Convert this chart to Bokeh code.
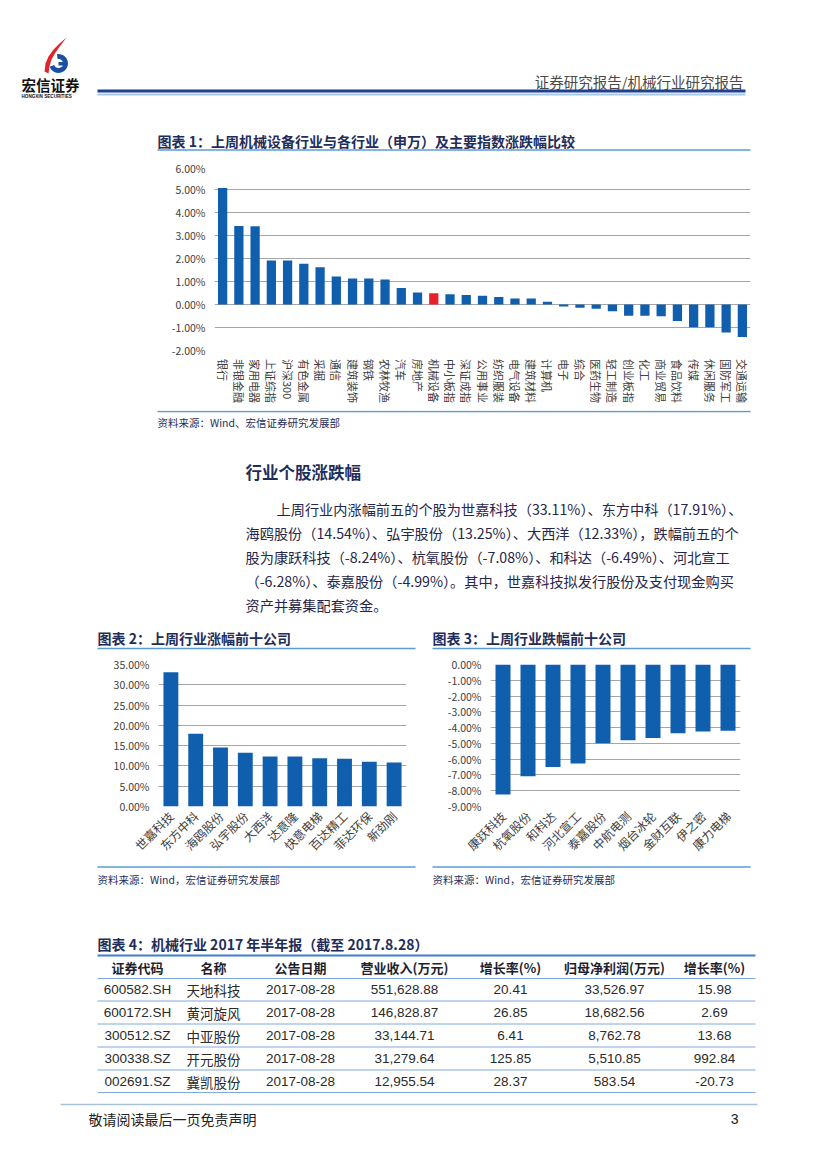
import math
from bokeh.plotting import figure
from bokeh.models import Range1d, FactorRange, FixedTicker, PrintfTickFormatter, Spacer
from bokeh.layouts import column, row
from bokeh.core.properties import value
from bokeh.embed import file_html
from bokeh.resources import INLINE

# ---------------- data ----------------
industries = ["银行", "非银金融", "家用电器", "上证综指", "沪深300", "有色金属", "采掘", "通信",
              "建筑装饰", "钢铁", "农林牧渔", "汽车", "房地产", "机械设备", "中小板指", "深证成指",
              "公用事业", "纺织服装", "电气设备", "建筑材料", "计算机", "电子", "综合", "医药生物",
              "轻工制造", "创业板指", "化工", "商业贸易", "食品饮料", "传媒", "休闲服务", "国防军工",
              "交通运输"]
industry_change = [5.07, 3.41, 3.40, 1.91, 1.91, 1.77, 1.62, 1.22, 1.13, 1.13, 1.09, 0.72, 0.52,
                   0.49, 0.45, 0.41, 0.38, 0.33, 0.26, 0.26, 0.12, -0.09, -0.14, -0.19, -0.29,
                   -0.49, -0.49, -0.51, -0.72, -0.99, -0.99, -1.22, -1.41]
highlight = "机械设备"
chart1_ticks = [-2, -1, 0, 1, 2, 3, 4, 5, 6]

gainers = ["世嘉科技", "东方中科", "海鸥股份", "弘宇股份", "大西洋", "达意隆", "快意电梯",
           "百达精工", "菲达环保", "新劲刚"]
gainer_change = [33.11, 17.91, 14.54, 13.25, 12.33, 12.30, 11.90, 11.75, 11.02, 10.86]
chart2_ticks = [0, 5, 10, 15, 20, 25, 30, 35]

losers = ["康跃科技", "杭氧股份", "和科达", "河北宣工", "泰嘉股份", "中航电测", "烟台冰轮",
          "金财互联", "伊之密", "康力电梯"]
loser_change = [-8.24, -7.08, -6.49, -6.28, -4.99, -4.80, -4.66, -4.36, -4.24, -4.20]
chart3_ticks = [-9, -8, -7, -6, -5, -4, -3, -2, -1, 0]

table_header = ["证券代码", "名称", "公告日期", "营业收入(万元)", "增长率(%)", "归母净利润(万元)", "增长率(%)"]
codes = ["600582.SH", "600172.SH", "300512.SZ", "300338.SZ", "002691.SZ"]
names = ["天地科技", "黄河旋风", "中亚股份", "开元股份", "冀凯股份"]
dates = ["2017-08-28", "2017-08-28", "2017-08-28", "2017-08-28", "2017-08-28"]
revenue = ["551,628.88", "146,828.87", "33,144.71", "31,279.64", "12,955.54"]
revenue_growth = ["20.41", "26.85", "6.41", "125.85", "28.37"]
profit = ["33,526.97", "18,682.56", "8,762.78", "5,510.85", "583.54"]
profit_growth = ["15.98", "2.69", "13.68", "992.84", "-20.73"]

paragraph = [
    "上周行业内涨幅前五的个股为世嘉科技（33.11%）、东方中科（17.91%）、",
    "海鸥股份（14.54%）、弘宇股份（13.25%）、大西洋（12.33%），跌幅前五的个",
    "股为康跃科技（-8.24%）、杭氧股份（-7.08%）、和科达（-6.49%）、河北宣工",
    "（-6.28%）、泰嘉股份（-4.99%）。其中，世嘉科技拟发行股份及支付现金购买",
    "资产并募集配套资金。",
]

# ---------------- style ----------------
CJK = "Noto Sans CJK SC"
LAT = "Liberation Sans"
NAVY = "#1f2d5a"
BLUE = "#0f5fae"
RED = "#e8202a"
TITLE_LINE = "#5b9bd5"
GRID = "#a6a6a6"
TICK_TXT = "#404040"
PAGE_W = 820


def band(y0, y1):
    p = figure(width=PAGE_W, height=y1 - y0, x_range=Range1d(0, PAGE_W), y_range=Range1d(y1, y0),
               output_backend="svg", toolbar_location=None, min_border=0,
               x_axis_location=None, y_axis_location=None)
    p.grid.visible = False
    p.outline_line_color = None
    return p


def txt(p, x, y, s, size, color, font=CJK, bold=False, align="left"):
    xs = x if isinstance(x, list) else [x]
    ys = y if isinstance(y, list) else [y]
    ss = s if isinstance(s, list) else [s]
    n = len(ss)
    if len(xs) == 1:
        xs = xs * n
    if len(ys) == 1:
        ys = ys * n
    p.text(x=xs, y=ys, text=ss, text_font=value(font), text_font_size=f"{size}px",
           text_color=color, text_baseline="middle", text_align=align,
           text_font_style="bold" if bold else "normal")


def hline(p, x0, x1, y, color, width):
    p.segment(x0=[x0], y0=[y], x1=[x1], y1=[y], line_color=color, line_width=width)


def style_chart(p, ticks, xlabel_size, orient):
    p.outline_line_color = None
    p.xgrid.visible = False
    p.ygrid.grid_line_color = GRID
    p.ygrid.grid_line_width = 1
    p.yaxis.ticker = FixedTicker(ticks=ticks)
    p.yaxis.formatter = PrintfTickFormatter(format="%.2f%%")
    axes = list(p.yaxis) + list(p.xaxis)
    for ax in axes:
        ax.axis_line_color = None
        ax.major_tick_line_color = None
        ax.minor_tick_line_color = None
        ax.major_tick_out = 0
        ax.major_tick_in = 0
        ax.major_label_text_font = CJK
        ax.major_label_text_color = TICK_TXT
    p.yaxis.major_label_text_font_size = "10.5px"
    p.yaxis.major_label_standoff = 9
    if len(p.xaxis):
        p.xaxis.major_label_text_font_size = f"{xlabel_size}px"
        p.xaxis.major_label_orientation = orient
        p.xaxis.major_label_standoff = 7


# ---------------- band A: header + chart 1 title ----------------
A = band(0, 160)
# logo
A.patch(x=[44, 45, 48, 53, 59, 66, 60, 55, 51, 49, 48],
        y=[71, 63, 56, 49, 43, 37, 45, 52, 59, 66, 73], color="#e0262b", line_width=0)
A.annular_wedge(x=[58], y=[63], inner_radius=4.5, outer_radius=9.5,
                start_angle=math.radians(200), end_angle=math.radians(100),
                color="#1d4fa0", line_width=0)
A.quad(left=[58], right=[66], top=[61.5], bottom=[65], color="#1d4fa0", line_width=0)
txt(A, 21, 84, "宏信证券", 14.5, "#111111", bold=True)
txt(A, 21, 95.5, "HONGXIN SECURITIES", 4.6, "#111111", font=LAT, bold=True)
# right header
txt(A, 743, 81, "证券研究报告/机械行业研究报告", 14.5, "#4a4a4a", align="right")
hline(A, 97, 745, 90.5, "#1f3f8f", 3)
hline(A, 97, 745, 94, "#a9c9ec", 2)
# chart 1 title
txt(A, 157, 140, "图表 1：上周机械设备行业与各行业（申万）及主要指数涨跌幅比较", 14, NAVY, bold=True)
hline(A, 157, 750, 149.5, TITLE_LINE, 1.5)

# ---------------- chart 1 (bars) ----------------
x1_range = FactorRange(*industries)
p1 = figure(width=610, height=198, x_range=x1_range, y_range=Range1d(-2, 6),
            min_border_left=64, min_border_right=10, min_border_top=6, min_border_bottom=8,
            x_axis_location=None, output_backend="svg", toolbar_location=None)
colors1 = [RED if c == highlight else BLUE for c in industries]
p1.vbar(x=industries, top=industry_change, width=0.57, color=colors1, line_width=0)
style_chart(p1, chart1_ticks, 11, None)

# chart 1 category labels (vertical, read top to bottom, centred on each bar)
p1L = figure(width=610, height=52, x_range=x1_range, y_range=Range1d(-410, -358),
             min_border_left=64, min_border_right=10, min_border_top=0, min_border_bottom=0,
             x_axis_location=None, y_axis_location=None, output_backend="svg", toolbar_location=None)
p1L.grid.visible = False
p1L.outline_line_color = None
p1L.text(x=industries, y=[-358.5] * len(industries), text=industries, angle=-math.pi / 2,
         text_align="left", text_baseline="middle", text_font=value(CJK),
         text_font_size="11px", text_color=TICK_TXT)

# ---------------- band B: source, heading, paragraph, chart 2/3 titles ----------------
B = band(410, 655)
hline(B, 157, 750, 411, TITLE_LINE, 1.5)
txt(B, 157, 422, "资料来源：Wind、宏信证券研究发展部", 10.5, NAVY)
txt(B, 245, 471, "行业个股涨跌幅", 16.5, NAVY, bold=True)
para_y = [508, 532, 556, 580, 604]
for i, line in enumerate(paragraph):
    txt(B, 276 if i == 0 else 245, para_y[i], line, 14.2, "#26264a")
txt(B, 97, 637, "图表 2：上周行业涨幅前十公司", 14, NAVY, bold=True)
txt(B, 432, 637, "图表 3：上周行业跌幅前十公司", 14, NAVY, bold=True)
hline(B, 97, 415, 648, TITLE_LINE, 1.5)
hline(B, 432, 750, 648, TITLE_LINE, 1.5)

# ---------------- chart 2 ----------------
p2 = figure(width=325, height=207, x_range=FactorRange(*gainers), y_range=Range1d(0, 35),
            min_border_left=68, min_border_right=9, min_border_top=9, min_border_bottom=54,
            output_backend="svg", toolbar_location=None)
p2.vbar(x=gainers, top=gainer_change, width=0.6, color=BLUE, line_width=0)
style_chart(p2, chart2_ticks, 12, math.pi / 4)

# ---------------- chart 3 ----------------
p3 = figure(width=345, height=207, x_range=FactorRange(*losers), y_range=Range1d(-9, 0),
            min_border_left=75, min_border_right=20, min_border_top=9, min_border_bottom=54,
            output_backend="svg", toolbar_location=None)
p3.vbar(x=losers, top=loser_change, width=0.6, color=BLUE, line_width=0)
style_chart(p3, chart3_ticks, 12, math.pi / 4)

# ---------------- band C: sources, table, footer ----------------
C = band(862, 1160)
hline(C, 97, 415, 866.5, TITLE_LINE, 1.5)
hline(C, 432, 750, 866.5, TITLE_LINE, 1.5)
txt(C, 97, 879, "资料来源：Wind，宏信证券研究发展部", 10.5, NAVY)
txt(C, 432, 879, "资料来源：Wind，宏信证券研究发展部", 10.5, NAVY)

txt(C, 97, 943, "图表 4：机械行业 2017 年半年报（截至 2017.8.28）", 14, NAVY, bold=True)
col_x = [137, 213, 300, 404, 510, 614, 714]
hline(C, 97, 755, 955, "#3f7fcf", 2)
txt(C, col_x, 966.5, table_header, 13, "#1e1e2e", bold=True, align="center")
row_lines = [978, 1000.5, 1023.5, 1046.5, 1069.5, 1092]
for yl in row_lines:
    hline(C, 97, 755, yl, "#7fa9dc", 1)
row_y = [989, 1012, 1035, 1058, 1081]
columns = [codes, names, dates, revenue, revenue_growth, profit, profit_growth]
for ci, col in enumerate(columns):
    font = CJK if ci == 1 else LAT
    txt(C, col_x[ci], row_y, col, 13.5, "#2a2a2a", font=font, align="center")

hline(C, 60, 757, 1104, "#a9c4d8", 1.5)
txt(C, 88, 1118, "敬请阅读最后一页免责声明", 14, "#222222")
txt(C, 738, 1118, "3", 14, "#222222", font=LAT, align="right")

layout = column(
    A,
    row(Spacer(width=150, height=250),
        column(p1, p1L),
        Spacer(width=PAGE_W - 760, height=250)),
    B,
    row(Spacer(width=90, height=207), p2, p3, Spacer(width=PAGE_W - 760, height=207)),
    C,
)

open("out.html", "w").write(file_html(layout, INLINE))
